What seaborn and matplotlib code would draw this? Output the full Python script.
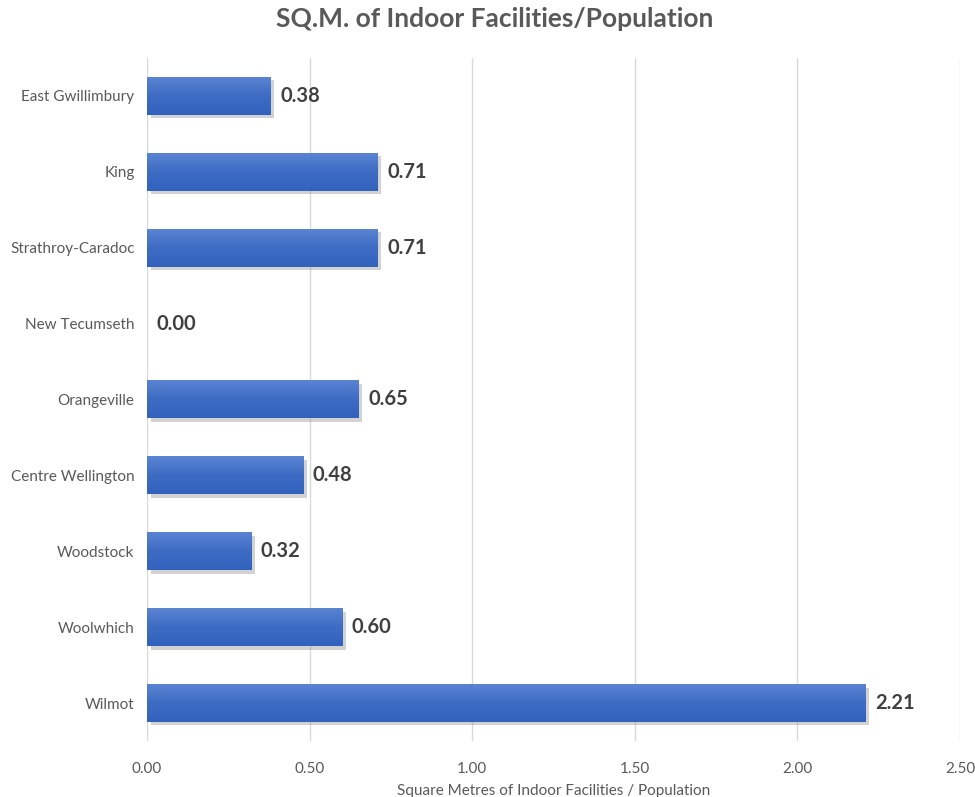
import matplotlib
matplotlib.use("Agg")
import matplotlib.pyplot as plt
import matplotlib.patheffects as pe
from matplotlib.colors import LinearSegmentedColormap
import numpy as np
import seaborn as sns
import pandas as pd

categories = ["East Gwillimbury", "King", "Strathroy-Caradoc", "New Tecumseth",
              "Orangeville", "Centre Wellington", "Woodstock", "Woolwhich", "Wilmot"]
values = [0.38, 0.71, 0.71, 0.00, 0.65, 0.48, 0.32, 0.60, 2.21]
x_ticks = [0.0, 0.5, 1.0, 1.5, 2.0, 2.5]
x_tick_labels = ["0.00", "0.50", "1.00", "1.50", "2.00", "2.50"]

df = pd.DataFrame({"Municipality": categories, "Value": values})

sns.set_theme(style="white")
plt.rcParams["font.family"] = ["Lato", "DejaVu Sans"]

fig = plt.figure(figsize=(9.75, 7.97), dpi=100)
ax = fig.add_axes([0.1508, 0.0703, 0.8338, 0.8569])

sns.barplot(data=df, x="Value", y="Municipality", orient="h", color="#4472C4",
            saturation=1, width=0.5, ax=ax)

cmap = LinearSegmentedColormap.from_list("bargrad", ["#5a84d2", "#3d6cc4", "#3162bd"])
grad = np.linspace(0, 1, 64).reshape(-1, 1)
for p in ax.patches:
    p.set_edgecolor("none")
    p.set_path_effects([pe.SimplePatchShadow(offset=(2.5, -2.5), shadow_rgbFace="#7f7f7f", alpha=0.35),
                        pe.Normal()])
    x0, y0 = p.get_x(), p.get_y()
    w, h = p.get_width(), p.get_height()
    if w > 0:
        ax.imshow(grad, extent=[x0, x0 + w, y0 + h, y0], cmap=cmap, aspect="auto",
                  interpolation="bilinear", zorder=p.get_zorder() + 0.1, origin="upper")

grey = "#595959"
for i, v in enumerate(values):
    ax.text(v + 0.03, i, f"{v:.2f}", va="center", ha="left", fontsize=14.5,
            fontweight="bold", color="#404040")

ax.set_xlim(0, 2.5)
ax.set_ylim(8.5, -0.5)
ax.set_xticks(x_ticks)
ax.set_xticklabels(x_tick_labels, color=grey, fontsize=11)
ax.tick_params(axis="y", labelcolor=grey, labelsize=11, length=0, pad=9)
ax.tick_params(axis="x", length=0, pad=15)
ax.grid(axis="x", color="#d9d9d9", linewidth=1)
ax.set_axisbelow(True)
for s in ax.spines.values():
    s.set_visible(False)
ax.set_ylabel("")
ax.set_xlabel("Square Metres of Indoor Facilities / Population", color=grey, fontsize=11, labelpad=6)

fig.text(0.507, 0.976, "SQ.M. of Indoor Facilities/Population", ha="center", va="center",
         fontsize=19, fontweight="bold", color=grey)

fig.savefig("out.png", dpi=100, facecolor="white")
